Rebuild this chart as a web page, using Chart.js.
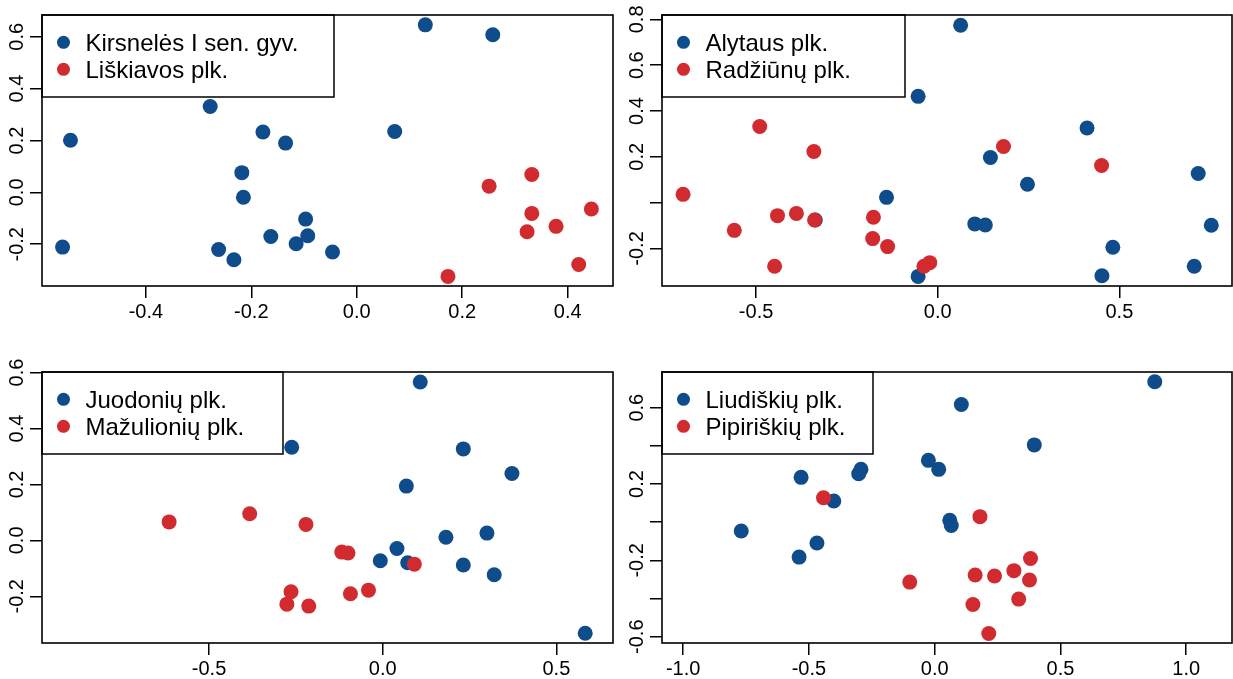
<!DOCTYPE html>
<html>
<head>
<meta charset="utf-8">
<script src="https://cdn.jsdelivr.net/npm/chart.js@4.4.1/dist/chart.umd.min.js"></script>
<style>
  body { margin: 0; background: #fff; width: 1233px; height: 679px; overflow: hidden; position: relative; }
  canvas { position: absolute; }
</style>
</head>
<body>
<canvas id="c1" width="616" height="340" style="left:0;top:0"></canvas>
<canvas id="c2" width="613" height="340" style="left:620px;top:0"></canvas>
<canvas id="c3" width="616" height="339" style="left:0;top:340px"></canvas>
<canvas id="c4" width="613" height="339" style="left:620px;top:340px"></canvas>
<script>
// --- data: panel 1 ---
const p1Labels = ["Kirsnelės I sen. gyv.", "Liškiavos plk."];
const p1BlueX = [0.130, 0.258, -0.278, -0.543, -0.178, -0.135, 0.072, -0.218, -0.215, -0.097, -0.163, -0.093, -0.115, -0.558, -0.262, -0.233, -0.046];
const p1BlueY = [0.646, 0.608, 0.331, 0.201, 0.233, 0.190, 0.235, 0.076, -0.019, -0.103, -0.170, -0.167, -0.198, -0.211, -0.220, -0.260, -0.230];
const p1RedX = [0.251, 0.332, 0.445, 0.332, 0.378, 0.323, 0.421, 0.173];
const p1RedY = [0.024, 0.069, -0.064, -0.081, -0.131, -0.152, -0.278, -0.324];
const p1XRange = [-0.597, 0.486];
const p1YRange = [-0.361, 0.684];
const p1XTicks = [-0.4, -0.2, 0, 0.2, 0.4];
const p1XTickLabels = ["-0.4", "-0.2", "0.0", "0.2", "0.4"];
const p1YTicks = [-0.2, 0, 0.2, 0.4, 0.6];
const p1YTickLabels = ["-0.2", "0.0", "0.2", "0.4", "0.6"];

// --- data: panel 2 ---
const p2Labels = ["Alytaus plk.", "Radžiūnų plk."];
const p2BlueX = [0.063, -0.054, 0.411, 0.145, 0.247, 0.717, -0.141, 0.102, 0.131, -0.337, 0.753, 0.482, 0.706, 0.452, -0.054];
const p2BlueY = [0.774, 0.464, 0.326, 0.197, 0.080, 0.127, 0.023, -0.093, -0.098, -0.076, -0.099, -0.195, -0.278, -0.319, -0.322];
const p2RedX = [-0.490, -0.341, 0.181, 0.451, -0.701, -0.441, -0.389, -0.339, -0.177, -0.179, -0.138, -0.560, -0.449, -0.038, -0.022];
const p2RedY = [0.332, 0.223, 0.245, 0.162, 0.036, -0.057, -0.047, -0.076, -0.064, -0.157, -0.192, -0.121, -0.278, -0.278, -0.262];
const p2XRange = [-0.759, 0.810];
const p2YRange = [-0.364, 0.819];
const p2XTicks = [-0.5, 0, 0.5];
const p2XTickLabels = ["-0.5", "0.0", "0.5"];
const p2YTicks = [-0.2, 0, 0.2, 0.4, 0.6, 0.8];
const p2YTickLabels = ["-0.2", "", "0.2", "0.4", "0.6", "0.8"];

// --- data: panel 3 ---
const p3Labels = ["Juodonių plk.", "Mažulionių plk."];
const p3BlueX = [0.108, -0.262, 0.232, 0.372, 0.068, 0.182, 0.300, 0.041, -0.007, 0.072, 0.232, 0.321, 0.583];
const p3BlueY = [0.566, 0.333, 0.327, 0.239, 0.194, 0.011, 0.026, -0.029, -0.073, -0.080, -0.088, -0.123, -0.332];
const p3RedX = [-0.615, -0.383, -0.221, -0.118, -0.100, 0.091, -0.264, -0.276, -0.213, -0.093, -0.041];
const p3RedY = [0.066, 0.095, 0.057, -0.042, -0.045, -0.085, -0.184, -0.228, -0.235, -0.191, -0.178];
const p3XRange = [-0.981, 0.663];
const p3YRange = [-0.367, 0.602];
const p3XTicks = [-0.5, 0, 0.5];
const p3XTickLabels = ["-0.5", "0.0", "0.5"];
const p3YTicks = [-0.2, 0, 0.2, 0.4, 0.6];
const p3YTickLabels = ["-0.2", "0.0", "0.2", "0.4", "0.6"];

// --- data: panel 4 ---
const p4Labels = ["Liudiškių plk.", "Pipiriškių plk."];
const p4BlueX = [0.875, 0.106, 0.396, -0.025, 0.016, -0.293, -0.302, -0.531, -0.401, 0.060, 0.066, -0.769, -0.468, -0.539];
const p4BlueY = [0.736, 0.617, 0.405, 0.324, 0.277, 0.277, 0.254, 0.235, 0.111, 0.010, -0.017, -0.046, -0.109, -0.183];
const p4RedX = [-0.442, 0.180, 0.381, 0.315, 0.161, 0.238, 0.377, -0.099, 0.334, 0.152, 0.215];
const p4RedY = [0.128, 0.029, -0.190, -0.254, -0.277, -0.282, -0.303, -0.314, -0.403, -0.431, -0.583];
const p4XRange = [-1.084, 1.182];
const p4YRange = [-0.633, 0.787];
const p4XTicks = [-1, -0.5, 0, 0.5, 1];
const p4XTickLabels = ["-1.0", "-0.5", "0.0", "0.5", "1.0"];
const p4YTicks = [-0.6, -0.4, -0.2, 0, 0.2, 0.4, 0.6];
const p4YTickLabels = ["-0.6", "", "-0.2", "", "0.2", "", "0.6"];

const BLUE = "#0f4c8c";
const RED = "#d22b2f";
const FONT = '"Liberation Sans", Arial, Helvetica, sans-serif';

// box around plot area + legend in the top-left corner (like R's legend("topleft"))
const frameLegend = {
  id: "frameLegend",
  afterDatasetsDraw(chart, args, opts) {
    const { ctx, chartArea: a } = chart;
    ctx.save();
    // legend
    const w = opts.width, h = 82;
    ctx.fillStyle = "#fff";
    ctx.fillRect(a.left, a.top, w, h);
    ctx.lineWidth = 1.5;
    ctx.strokeStyle = "#000";
    ctx.strokeRect(a.left, a.top, w, h);
    ctx.font = "24px " + FONT;
    ctx.textBaseline = "alphabetic";
    chart.data.datasets.forEach((d, i) => {
      const cy = a.top + 27.3 + i * 27;
      ctx.fillStyle = d.backgroundColor;
      ctx.beginPath();
      ctx.arc(a.left + 21.5, cy, 6.5, 0, Math.PI * 2);
      ctx.fill();
      ctx.fillStyle = "#000";
      ctx.fillText(d.label, a.left + 43.5, cy + 8.5);
    });
    // plot box
    ctx.lineWidth = 1.6;
    ctx.strokeRect(a.left, a.top, a.right - a.left, a.bottom - a.top);
    ctx.restore();
  }
};

function toPoints(xs, ys) {
  return xs.map((x, i) => ({ x: x, y: ys[i] }));
}

function makePanel(id, labels, blueX, blueY, redX, redY, xRange, yRange,
                   xTicks, xTickLabels, yTicks, yTickLabels, layoutOpts) {
  const tickFont = { family: FONT, size: 20 };
  return new Chart(document.getElementById(id), {
    type: "scatter",
    data: {
      datasets: [
        { label: labels[0], data: toPoints(blueX, blueY), backgroundColor: BLUE, order: 2 },
        { label: labels[1], data: toPoints(redX, redY), backgroundColor: RED, order: 1 }
      ]
    },
    options: {
      responsive: false,
      animation: false,
      events: [],
      layout: { autoPadding: false, padding: { top: layoutOpts.top, right: layoutOpts.right, left: 0, bottom: 0 } },
      elements: { point: { radius: 7.5, borderWidth: 0, hoverRadius: 7.5 } },
      plugins: {
        legend: { display: false },
        tooltip: { enabled: false },
        frameLegend: { width: layoutOpts.legendWidth }
      },
      scales: {
        x: {
          type: "linear",
          min: xRange[0],
          max: xRange[1],
          afterBuildTicks: s => { s.ticks = xTicks.map(v => ({ value: v })); },
          afterFit: s => { s.height = layoutOpts.xAxisHeight; },
          ticks: {
            autoSkip: false, minRotation: 0, maxRotation: 0, padding: 2,
            color: "#000", font: tickFont,
            callback: (v, i) => xTickLabels[i]
          },
          grid: { drawOnChartArea: false, drawTicks: true, tickLength: 12, color: "#000", lineWidth: 1.5 },
          border: { display: false }
        },
        y: {
          type: "linear",
          min: yRange[0],
          max: yRange[1],
          afterBuildTicks: s => { s.ticks = yTicks.map(v => ({ value: v })); },
          afterFit: s => { s.width = 42; },
          ticks: {
            autoSkip: false, minRotation: 90, maxRotation: 90, crossAlign: "center", padding: -5,
            color: "#000", font: tickFont,
            callback: (v, i) => yTickLabels[i]
          },
          grid: { drawOnChartArea: false, drawTicks: true, tickLength: 12, color: "#000", lineWidth: 1.5 },
          border: { display: false }
        }
      }
    },
    plugins: [frameLegend]
  });
}

makePanel("c1", p1Labels, p1BlueX, p1BlueY, p1RedX, p1RedY, p1XRange, p1YRange,
  p1XTicks, p1XTickLabels, p1YTicks, p1YTickLabels,
  { top: 15, right: 3, xAxisHeight: 54, legendWidth: 292 });
makePanel("c2", p2Labels, p2BlueX, p2BlueY, p2RedX, p2RedY, p2XRange, p2YRange,
  p2XTicks, p2XTickLabels, p2YTicks, p2YTickLabels,
  { top: 15, right: 1, xAxisHeight: 54, legendWidth: 243 });
makePanel("c3", p3Labels, p3BlueX, p3BlueY, p3RedX, p3RedY, p3XRange, p3YRange,
  p3XTicks, p3XTickLabels, p3YTicks, p3YTickLabels,
  { top: 32, right: 3, xAxisHeight: 36, legendWidth: 241 });
makePanel("c4", p4Labels, p4BlueX, p4BlueY, p4RedX, p4RedY, p4XRange, p4YRange,
  p4XTicks, p4XTickLabels, p4YTicks, p4YTickLabels,
  { top: 32, right: 1, xAxisHeight: 36, legendWidth: 211 });
</script>
</body>
</html>
